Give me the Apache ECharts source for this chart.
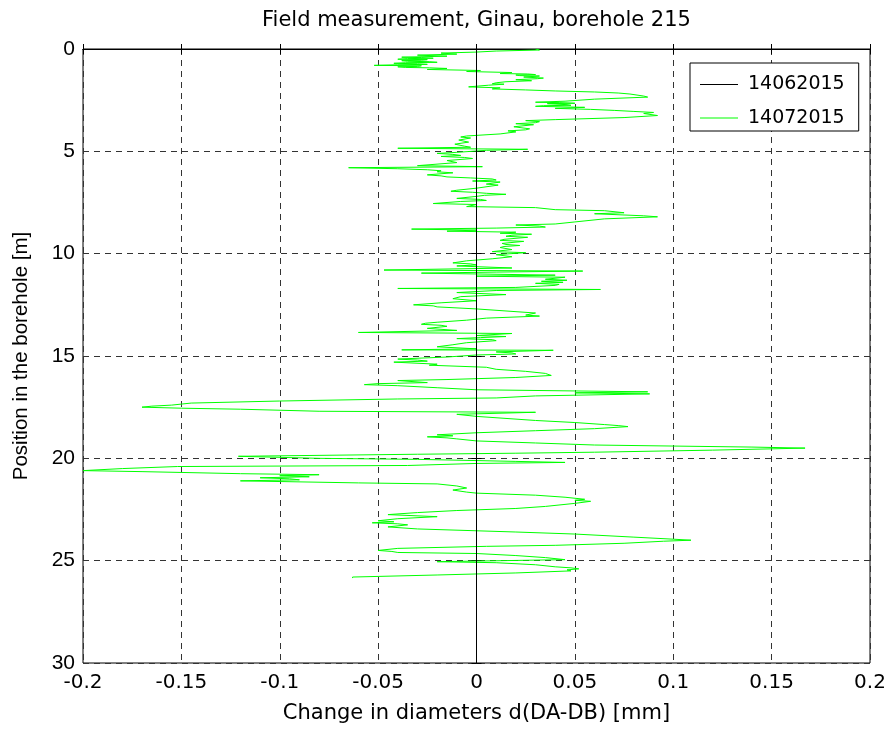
<!DOCTYPE html>
<html>
<head>
<meta charset="utf-8">
<script src="https://cdn.jsdelivr.net/npm/echarts@6/dist/echarts.min.js"></script>
<style>
  html, body { margin: 0; padding: 0; background: #fff; }
  #chart { width: 892px; height: 729px; }
</style>
</head>
<body>
<div id="chart"></div>
<script>
// borehole 215, Ginau — depth [m] vs change in diameter [mm]
const seriesNames = ['14062015', '14072015']
const xTicks = [-0.2, -0.15, -0.1, -0.05, 0, 0.05, 0.1, 0.15, 0.2]
const yTicks = [0, 5, 10, 15, 20, 25, 30]

// reference measurement (zero line)
const refDepth = [0, 25.85]
const refChange = [0, 0]

const depthA = [
  0.00, 0.05, 0.10, 0.15, 0.20, 0.25, 0.30, 0.35,
  0.40, 0.42, 0.45, 0.47, 0.50, 0.52, 0.55, 0.57, 0.60, 0.62,
  0.65, 0.67, 0.70, 0.72, 0.75, 0.77, 0.80, 0.82, 0.85, 0.87,
  0.90, 0.92, 0.95, 1.00, 1.05, 1.10, 1.15, 1.20, 1.22, 1.25,
  1.27, 1.30, 1.32, 1.35, 1.37, 1.40, 1.42, 1.45, 1.50, 1.55,
  1.60, 1.65, 1.70, 1.72, 1.75, 1.77, 1.80, 1.85, 1.90, 1.95,
  2.00, 2.05, 2.10, 2.15, 2.20, 2.30, 2.35, 2.45, 2.55, 2.60,
  2.62, 2.65, 2.67, 2.70, 2.72, 2.75, 2.77, 2.80, 2.85, 2.90,
  2.95, 3.00, 3.05, 3.10, 3.15, 3.25, 3.35, 3.45, 3.50, 3.55,
  3.60, 3.65, 3.70, 3.75, 3.80, 3.85, 3.90, 3.95, 4.00, 4.05,
  4.15, 4.25, 4.30, 4.35, 4.40, 4.45, 4.50, 4.55, 4.60, 4.65,
  4.70, 4.75, 4.80, 4.85, 4.90, 4.95
]
const changeA = [
  0.030, 0.032, 0.010, 0.000, -0.018, -0.010, -0.030, -0.015,
  -0.038, -0.028, -0.022, -0.035, -0.040, -0.025, -0.028, -0.038, -0.035, -0.024,
  -0.020, -0.036, -0.042, -0.030, -0.025, -0.040, -0.052, -0.028, -0.030, -0.040,
  -0.036, -0.024, -0.015, -0.025, 0.002, -0.005, 0.018, 0.012, 0.026, 0.030,
  0.020, 0.022, 0.032, 0.033, 0.024, 0.025, 0.034, 0.031, 0.020, 0.028,
  0.015, 0.010, 0.008, 0.014, 0.015, 0.006, 0.005, -0.004, 0.012, 0.008,
  0.025, 0.040, 0.060, 0.072, 0.078, 0.085, 0.087, 0.060, 0.045, 0.030,
  0.042, 0.050, 0.036, 0.035, 0.046, 0.048, 0.034, 0.030, 0.055, 0.040,
  0.058, 0.070, 0.080, 0.090, 0.085, 0.092, 0.075, 0.040, 0.025, 0.032,
  0.030, 0.020, 0.029, 0.028, 0.019, 0.018, 0.027, 0.025, 0.016, 0.020,
  0.012, -0.005, -0.008, -0.003, -0.002, -0.009, -0.010, -0.004, -0.005, -0.011,
  -0.012, -0.006, -0.003, -0.040, 0.026, 0.005
]
const depthB = [
  5.05, 5.10, 5.15, 5.20, 5.25, 5.30, 5.35, 5.45, 5.55, 5.70,
  5.75, 5.80, 5.85, 5.90, 5.95, 6.00, 6.05, 6.10, 6.15, 6.20,
  6.25, 6.30, 6.35, 6.40, 6.45, 6.50, 6.55, 6.60, 6.65, 6.70,
  6.80, 6.90, 6.95, 7.00, 7.05, 7.10, 7.15, 7.20, 7.30, 7.35,
  7.40, 7.45, 7.55, 7.60, 7.70, 7.75, 7.85, 7.90, 8.00, 8.05,
  8.15, 8.20, 8.30, 8.45, 8.55, 8.60, 8.65, 8.70, 8.75, 8.80,
  8.85, 8.90, 8.95, 9.00, 9.05, 9.10, 9.15, 9.20, 9.25, 9.30,
  9.35, 9.40, 9.45, 9.50, 9.55, 9.60, 9.65, 9.70, 9.80, 9.90,
  9.95
]
const changeB = [
  -0.010, -0.020, -0.012, -0.008, -0.018, -0.006, -0.002, -0.015, -0.010, -0.030,
  0.003, -0.065, -0.040, -0.025, -0.018, -0.020, -0.012, -0.012, -0.025, -0.018,
  -0.015, -0.003, 0.008, 0.010, -0.002, 0.012, 0.013, 0.005, 0.011, 0.010,
  0.000, -0.010, -0.013, -0.002, 0.005, 0.015, 0.004, 0.000, -0.010, 0.002,
  0.005, -0.008, -0.022, 0.000, -0.005, 0.030, 0.040, 0.065, 0.075, 0.060,
  0.085, 0.092, 0.065, 0.050, 0.040, 0.020, 0.032, 0.035, 0.010, -0.033,
  0.000, -0.015, 0.020, 0.012, 0.028, 0.018, 0.015, 0.026, 0.027, 0.014,
  0.012, 0.024, 0.025, 0.013, 0.015, 0.022, 0.014, 0.012, 0.018, 0.008,
  0.025
]
const depthC = [
  10.05, 10.15, 10.25, 10.35, 10.45, 10.50, 10.55, 10.60, 10.70, 10.80,
  10.85, 10.90, 10.95, 11.05, 11.10, 11.15, 11.25, 11.30, 11.35, 11.40,
  11.45, 11.50, 11.55, 11.65, 11.70, 11.75, 11.80, 11.90, 12.00, 12.10,
  12.20, 12.30, 12.40, 12.50, 12.55, 12.60, 12.70, 12.80, 12.90, 13.00,
  13.05, 13.15, 13.25, 13.35, 13.40, 13.45, 13.50, 13.55, 13.65, 13.75,
  13.85, 13.90, 14.00, 14.05, 14.10, 14.15, 14.20, 14.25, 14.35, 14.45,
  14.55, 14.65, 14.70, 14.72, 14.80, 14.85, 14.90, 14.95
]
const changeC = [
  0.010, 0.018, 0.008, -0.005, -0.012, -0.003, 0.000, -0.010, 0.018, -0.047,
  0.054, 0.010, -0.028, 0.040, 0.000, 0.045, 0.035, 0.046, 0.033, 0.044,
  0.030, 0.042, 0.040, 0.020, -0.040, 0.063, 0.010, -0.010, 0.015, -0.008,
  -0.012, 0.000, -0.018, -0.032, -0.022, -0.020, 0.000, 0.015, 0.030, 0.025,
  0.032, 0.005, -0.005, -0.020, -0.026, -0.028, -0.018, -0.015, -0.025, -0.010,
  -0.060, 0.018, 0.000, 0.015, 0.002, -0.010, 0.008, 0.010, -0.005, -0.012,
  -0.020, 0.000, -0.038, 0.039, 0.010, 0.018, 0.020, 0.000
]
const depthD = [
  15.05, 15.15, 15.20, 15.25, 15.30, 15.40, 15.45, 15.55, 15.65, 15.75,
  15.85, 15.95, 16.05, 16.15, 16.20, 16.30, 16.35, 16.40, 16.45, 16.55,
  16.65, 16.75, 16.80, 16.85, 16.95, 17.05, 17.10, 17.20, 17.30, 17.40,
  17.45, 17.50, 17.55, 17.60, 17.70, 17.75, 17.85, 17.95, 18.05, 18.15,
  18.25, 18.35, 18.40, 18.45, 18.55, 18.65, 18.75, 18.85, 18.90, 18.95,
  19.00, 19.05, 19.15, 19.25, 19.35, 19.40, 19.45, 19.50, 19.60, 19.70,
  19.75, 19.80, 19.90
]
const changeD = [
  -0.015, -0.040, -0.030, -0.025, -0.042, -0.020, -0.024, 0.005, 0.010, 0.025,
  0.035, 0.038, 0.020, -0.015, -0.040, -0.025, -0.050, -0.057, -0.040, -0.020,
  0.000, 0.087, 0.050, 0.088, 0.030, 0.010, -0.040, -0.100, -0.145, -0.155,
  -0.165, -0.170, -0.150, -0.120, -0.080, 0.030, -0.010, 0.000, 0.015, 0.030,
  0.050, 0.065, 0.072, 0.077, 0.060, 0.030, 0.000, -0.020, -0.012, -0.025,
  -0.015, -0.010, 0.000, 0.030, 0.060, 0.100, 0.140, 0.167, 0.120, 0.060,
  0.020, -0.030, -0.121
]
const depthE = [
  20.00, 20.05, 20.15, 20.20, 20.25, 20.35, 20.40, 20.50, 20.60, 20.65,
  20.75, 20.80, 20.85, 20.90, 20.95, 21.00, 21.05, 21.10, 21.20, 21.25,
  21.35, 21.45, 21.55, 21.65, 21.70, 21.80, 21.90, 22.00, 22.05, 22.10,
  22.15, 22.20, 22.35, 22.45, 22.55, 22.65, 22.75, 22.85, 22.95, 23.05,
  23.10, 23.15, 23.20, 23.25, 23.35, 23.45, 23.60, 23.70, 23.85, 23.95,
  24.00, 24.05, 24.15, 24.25, 24.30, 24.40, 24.50, 24.55, 24.60, 24.65,
  24.75, 24.85, 24.95, 25.05, 25.10, 25.20, 25.30, 25.35, 25.40, 25.45,
  25.50, 25.60, 25.70, 25.80, 25.85
]
const changeE = [
  -0.080, -0.030, 0.020, 0.045, 0.000, -0.035, -0.152, -0.180, -0.200, -0.170,
  -0.120, -0.080, -0.100, -0.085, -0.110, -0.095, -0.090, -0.120, -0.060, -0.020,
  -0.010, -0.005, -0.012, -0.005, 0.000, 0.030, 0.045, 0.055, 0.050, 0.058,
  0.059, 0.050, 0.035, 0.020, -0.010, -0.030, -0.045, -0.020, -0.040, -0.050,
  -0.042, -0.053, -0.040, -0.035, -0.045, -0.030, 0.020, 0.050, 0.080, 0.100,
  0.109, 0.095, 0.075, 0.040, 0.005, -0.040, -0.050, -0.043, -0.040, 0.000,
  0.020, 0.035, 0.045, -0.020, 0.010, 0.030, 0.040, 0.048, 0.052, 0.046,
  0.048, 0.020, -0.020, -0.063, -0.063
]

const depth = [].concat(depthA, depthB, depthC, depthD, depthE)
const change = [].concat(changeA, changeB, changeC, changeD, changeE)

const chart = echarts.init(document.getElementById('chart'))
// the source image runs a bit wide, so horizontal text uses the wider DejaVu face
const wideFont = 'DejaVu Sans, sans-serif'
const font = 'Liberation Sans, Arial, Helvetica, sans-serif'
const dash = [6, 5]

const axisBase = {
  axisLine: { show: true, lineStyle: { color: '#000', width: 1 } },
  axisTick: { show: true, inside: true, length: 5, lineStyle: { color: '#000' } },
  splitLine: { show: false }
}

const option = {
  animation: false,
  backgroundColor: '#fff',
  title: {
    text: 'Field measurement, Ginau, borehole 215',
    left: 262,
    top: 5,
    padding: [5, 0, 5, 0],
    textStyle: { color: '#000', fontSize: 21, fontWeight: 'normal', fontFamily: wideFont }
  },
  grid: { left: 83, right: 22, top: 49, bottom: 65, show: true, borderColor: '#000', borderWidth: 1 },
  legend: {
    data: seriesNames,
    orient: 'vertical',
    left: 690,
    top: 63,
    // gap chosen so both 1px legend lines land on whole pixels
    padding: [12, 14, 3.5, 10],
    icon: 'rect',
    itemWidth: 38,
    itemHeight: 1,
    itemGap: 14.5,
    backgroundColor: '#fff',
    borderColor: '#000',
    borderWidth: 1,
    textStyle: { color: '#000', fontSize: 19, fontFamily: wideFont, padding: [0, 0, 0, 5] }
  },
  xAxis: [
    Object.assign({}, axisBase, {
      type: 'value',
      min: xTicks[0],
      max: xTicks[xTicks.length - 1],
      interval: 0.05,
      name: 'Change in diameters d(DA-DB) [mm]',
      nameLocation: 'middle',
      nameGap: 40,
      nameTextStyle: { color: '#000', fontSize: 21, fontFamily: wideFont },
      axisLabel: { color: '#000', fontSize: 20, fontFamily: wideFont, margin: 10, formatter: v => String(+v.toFixed(2)) },
      splitLine: { show: true, lineStyle: { color: '#333', type: dash, width: 1 } }
    }),
    Object.assign({}, axisBase, {
      type: 'value', position: 'top',
      min: xTicks[0], max: xTicks[xTicks.length - 1], interval: 0.05,
      axisLabel: { show: false }
    })
  ],
  yAxis: [
    Object.assign({}, axisBase, {
      type: 'value',
      inverse: true,
      min: yTicks[0],
      max: yTicks[yTicks.length - 1],
      interval: 5,
      name: 'Position in the borehole [m]',
      nameLocation: 'middle',
      nameGap: 51,
      nameTextStyle: { color: '#000', fontSize: 20.5, fontFamily: font },
      axisLabel: { color: '#000', fontSize: 21, fontFamily: font, margin: 8 },
      splitLine: { show: true, lineStyle: { color: '#333', type: dash, width: 1 } }
    }),
    Object.assign({}, axisBase, {
      type: 'value', position: 'right', inverse: true,
      min: yTicks[0], max: yTicks[yTicks.length - 1], interval: 5,
      axisLabel: { show: false }
    })
  ],
  series: [
    {
      name: seriesNames[0],
      type: 'line',
      symbol: 'none',
      z: 3,
      color: '#000',
      lineStyle: { color: '#000', width: 1 },
      data: refDepth.map((d, i) => [refChange[i], d])
    },
    {
      name: seriesNames[1],
      type: 'line',
      symbol: 'none',
      z: 2,
      color: '#00ff00',
      lineStyle: { color: '#00ff00', width: 1 },
      data: depth.map((d, i) => [change[i], d])
    }
  ]
}
chart.setOption(option)
</script>
</body>
</html>
